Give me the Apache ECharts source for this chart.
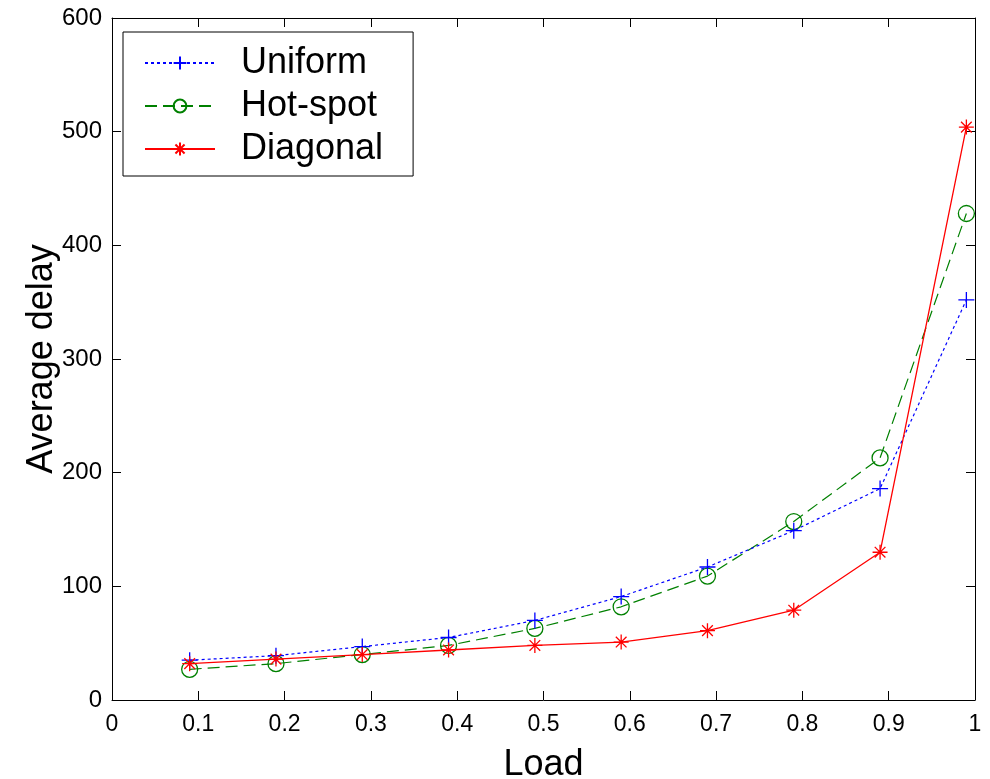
<!DOCTYPE html>
<html>
<head>
<meta charset="utf-8">
<script src="https://cdn.jsdelivr.net/npm/echarts@6/dist/echarts.min.js"></script>
<style>
html,body{margin:0;padding:0;background:#fff;}
#chart{width:990px;height:779px;}
</style>
</head>
<body>
<div id="chart"></div>
<script>
var loads = [0.09, 0.19, 0.29, 0.39, 0.49, 0.59, 0.69, 0.79, 0.89, 0.99];
var uniform = [35, 39, 47, 55, 70, 91, 117, 149, 186, 352];
var hotspot = [27, 32, 40, 48, 63, 82, 109, 157, 213, 428];
var diagonal = [32, 36, 40, 44, 48, 51, 61, 79, 130, 504];
var seriesNames = ['Uniform', 'Hot-spot', 'Diagonal'];
var xTicks = ['0', '0.1', '0.2', '0.3', '0.4', '0.5', '0.6', '0.7', '0.8', '0.9', '1'];

function pairs(vals) { return loads.map(function (x, i) { return [x, vals[i]]; }); }

var plusPath = 'path://M0,8 L16,8 M8,0 L8,16';
var starPath = 'path://M0,8 L16,8 M8,0 L8,16 M2.3,2.3 L13.7,13.7 M2.3,13.7 L13.7,2.3';

var FONT = '"Liberation Sans", Arial, Helvetica, sans-serif';

var chart = echarts.init(document.getElementById('chart'), null, {renderer: 'canvas'});

function xAxisBase(pos, showLabel) {
  return {
    type: 'value', position: pos, min: 0, max: 1, interval: 0.1,
    axisLine: {show: true, onZero: false, lineStyle: {color: '#000', width: 1}},
    axisTick: {show: true, inside: true, length: 9, lineStyle: {color: '#000'}},
    splitLine: {show: false},
    axisLabel: {
      show: showLabel, margin: 13, color: '#000', fontFamily: FONT, fontSize: 23,
      formatter: function (v) { return xTicks[Math.round(v * 10)]; }
    }
  };
}
function yAxisBase(pos, showLabel) {
  return {
    type: 'value', position: pos, min: 0, max: 600, interval: 100,
    axisLine: {show: true, onZero: false, lineStyle: {color: '#000', width: 1}},
    axisTick: {show: true, inside: true, length: 9, lineStyle: {color: '#000'}},
    splitLine: {show: false},
    axisLabel: {show: showLabel, margin: 10, color: '#000', fontFamily: FONT, fontSize: 24}
  };
}

var xb = xAxisBase('bottom', true);
xb.name = 'Load';
xb.nameLocation = 'middle';
xb.nameGap = 47;
xb.nameMoveOverlap = false;
xb.nameTextStyle = {color: '#000', fontFamily: FONT, fontSize: 36, verticalAlign: 'top'};
var yl = yAxisBase('left', true);
yl.name = 'Average delay';
yl.nameLocation = 'middle';
yl.nameGap = 52;
yl.nameMoveOverlap = false;
yl.nameTextStyle = {color: '#000', fontFamily: FONT, fontSize: 36};

var option = {
  backgroundColor: '#fff',
  animation: false,
  grid: {left: 112, right: 15, top: 18, bottom: 79, containLabel: false, outerBoundsMode: 'none'},
  xAxis: [xb, xAxisBase('top', false)],
  yAxis: [yl, yAxisBase('right', false)],
  legend: {
    orient: 'vertical', left: 123, top: 32,
    padding: [13, 30, 9, 21],
    itemGap: 7, itemWidth: 70, itemHeight: 16,
    backgroundColor: '#fff', borderColor: '#000', borderWidth: 1,
    textStyle: {color: '#000', fontFamily: FONT, fontSize: 36, lineHeight: 36, padding: [0, 0, 0, 21]},
    data: seriesNames
  },
  series: [
    {
      name: seriesNames[0], type: 'line', data: pairs(uniform),
      symbol: plusPath, symbolSize: 16, showAllSymbol: true,
      lineStyle: {color: '#0000ff', width: 1.2, type: [3, 3]},
      itemStyle: {color: 'rgba(0,0,0,0)', borderColor: '#0000ff', borderWidth: 1.3},
      z: 3
    },
    {
      name: seriesNames[1], type: 'line', data: pairs(hotspot),
      symbol: 'circle', symbolSize: 16, showAllSymbol: true,
      lineStyle: {color: '#008000', width: 1.2, type: [12, 6]},
      itemStyle: {color: 'rgba(0,0,0,0)', borderColor: '#008000', borderWidth: 1.3},
      z: 2
    },
    {
      name: seriesNames[2], type: 'line', data: pairs(diagonal),
      symbol: starPath, symbolSize: 15, showAllSymbol: true,
      lineStyle: {color: '#ff0000', width: 1.3, type: 'solid'},
      itemStyle: {color: 'rgba(0,0,0,0)', borderColor: '#ff0000', borderWidth: 1.3},
      z: 4
    }
  ]
};
chart.setOption(option);
</script>
</body>
</html>
